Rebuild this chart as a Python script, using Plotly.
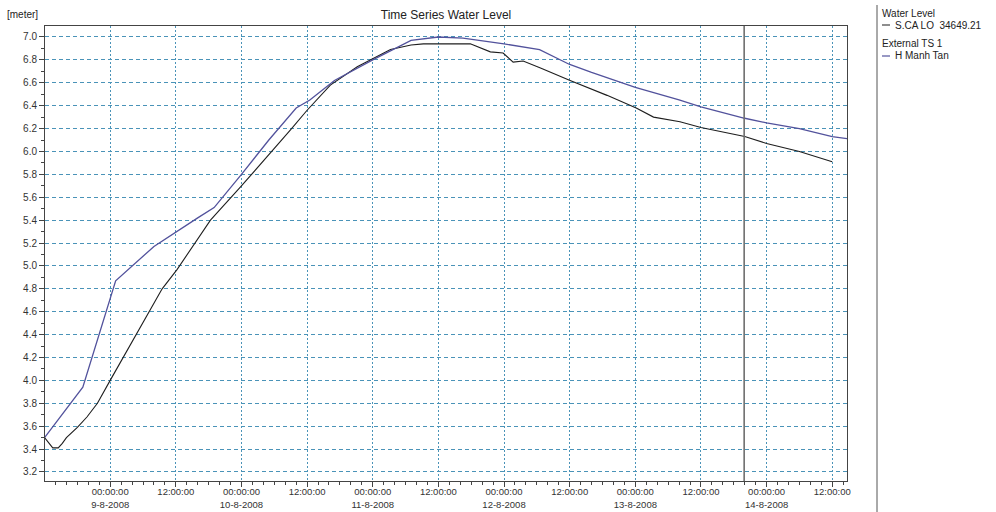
import plotly.graph_objects as go

# ---- data ----
manh_tan_time = [
    "2008-08-08 12:00", "2008-08-08 19:00", "2008-08-09 01:00", "2008-08-09 08:00",
    "2008-08-09 16:00", "2008-08-09 19:00", "2008-08-10 00:00", "2008-08-10 05:00",
    "2008-08-10 10:00", "2008-08-10 12:30", "2008-08-10 17:00", "2008-08-11 00:00",
    "2008-08-11 07:00", "2008-08-11 12:00", "2008-08-11 16:30", "2008-08-11 21:30",
    "2008-08-12 00:00", "2008-08-12 06:30", "2008-08-12 12:00", "2008-08-12 16:00",
    "2008-08-13 00:00", "2008-08-13 08:00", "2008-08-13 12:00", "2008-08-13 20:00",
    "2008-08-14 00:00", "2008-08-14 06:00", "2008-08-14 12:00", "2008-08-14 15:00",
]
manh_tan_level = [
    3.50, 3.94, 4.87, 5.17,
    5.42, 5.51, 5.80, 6.10,
    6.38, 6.45, 6.62, 6.80,
    6.97, 7.00, 6.99, 6.96,
    6.94, 6.89, 6.76, 6.69,
    6.56, 6.45, 6.39, 6.29,
    6.25, 6.20, 6.13, 6.11,
]

scalo_time = [
    "2008-08-08 12:00", "2008-08-08 13:30", "2008-08-08 14:30", "2008-08-08 15:15",
    "2008-08-08 16:00", "2008-08-08 18:00", "2008-08-08 19:45", "2008-08-08 21:40",
    "2008-08-09 00:00", "2008-08-09 09:30", "2008-08-09 12:15", "2008-08-09 18:20",
    "2008-08-09 23:50", "2008-08-10 04:40", "2008-08-10 09:00", "2008-08-10 12:00",
    "2008-08-10 16:15", "2008-08-10 21:10", "2008-08-11 03:15", "2008-08-11 07:00",
    "2008-08-11 09:15", "2008-08-11 17:50", "2008-08-11 21:30", "2008-08-11 23:50",
    "2008-08-12 01:40", "2008-08-12 03:30", "2008-08-12 06:40", "2008-08-12 12:05",
    "2008-08-12 18:50", "2008-08-13 00:10", "2008-08-13 03:20", "2008-08-13 08:10",
    "2008-08-13 12:00", "2008-08-13 20:00", "2008-08-14 00:00", "2008-08-14 06:00",
    "2008-08-14 12:00",
]
scalo_level = [
    3.50, 3.41, 3.41, 3.45,
    3.50, 3.59, 3.68, 3.80,
    4.00, 4.80, 4.97, 5.40,
    5.69, 5.95, 6.19, 6.36,
    6.58, 6.74, 6.89, 6.93,
    6.94, 6.94, 6.87, 6.86,
    6.78, 6.79, 6.73, 6.62,
    6.49, 6.38, 6.30, 6.26,
    6.21, 6.13, 6.07, 6.00,
    5.91,
]

x_tick_vals = [
    "2008-08-09 00:00", "2008-08-09 12:00", "2008-08-10 00:00", "2008-08-10 12:00",
    "2008-08-11 00:00", "2008-08-11 12:00", "2008-08-12 00:00", "2008-08-12 12:00",
    "2008-08-13 00:00", "2008-08-13 12:00", "2008-08-14 00:00", "2008-08-14 12:00",
]
x_tick_text = [
    "00:00:00<br>9-8-2008", "12:00:00", "00:00:00<br>10-8-2008", "12:00:00",
    "00:00:00<br>11-8-2008", "12:00:00", "00:00:00<br>12-8-2008", "12:00:00",
    "00:00:00<br>13-8-2008", "12:00:00", "00:00:00<br>14-8-2008", "12:00:00",
]
y_tick_vals = [3.2, 3.4, 3.6, 3.8, 4.0, 4.2, 4.4, 4.6, 4.8, 5.0, 5.2, 5.4, 5.6,
               5.8, 6.0, 6.2, 6.4, 6.6, 6.8, 7.0]
y_tick_text = ["%.1f" % v for v in y_tick_vals]

marker_time = "2008-08-13 19:54"
x_range = ["2008-08-08 12:05", "2008-08-14 14:42"]
y_range = [3.121, 7.096]

FONT = "Liberation Sans, Arial, sans-serif"
BLUE = "#52529c"
BLACK = "#1e1e1e"
GRID = "#4a93b8"

L, R, T, B = 45, 847, 26, 481
PW, PH = R - L, B - T

fig = go.Figure()
fig.add_trace(go.Scatter(x=scalo_time, y=scalo_level, mode="lines",
                         name="S.CA LO  34649.21",
                         line=dict(color=BLACK, width=1.1)))
fig.add_trace(go.Scatter(x=manh_tan_time, y=manh_tan_level, mode="lines",
                         name="H Manh Tan",
                         line=dict(color=BLUE, width=1.3)))

# vertical time marker
fig.add_shape(type="line", xref="x", yref="paper", x0=marker_time, x1=marker_time,
              y0=0, y1=1, line=dict(color="#6e6e6e", width=1.6))

# legend panel separator
sep_x = (877 - L) / PW
fig.add_shape(type="line", xref="paper", yref="paper", x0=sep_x, x1=sep_x,
              y0=(B - 512) / PH, y1=(B - 5) / PH, line=dict(color="#555555", width=1))

fig.update_layout(
    width=996, height=512,
    margin=dict(l=L, r=996 - R, t=T, b=512 - B, autoexpand=False),
    paper_bgcolor="white", plot_bgcolor="white",
    showlegend=False,
    font=dict(family=FONT, size=10, color="#333333"),
    title=dict(text="Time Series Water Level", x=0.5, xref="paper",
               y=1 - 15 / 512, yref="container", xanchor="center", yanchor="middle",
               font=dict(family=FONT, size=12, color="#222222")),
)

fig.update_xaxes(
    type="date", range=x_range, automargin=False,
    tickmode="array", tickvals=x_tick_vals, ticktext=x_tick_text,
    ticks="outside", ticklen=5, tickcolor="#444444", tickwidth=1,
    ticklabelstandoff=-3,
    showline=True, linecolor="#444444", linewidth=1, mirror=True,
    showgrid=True, gridcolor=GRID, griddash="2px,2px", gridwidth=1,
    zeroline=False,
    tickfont=dict(family=FONT, size=9.5, color="#333333"),
    minor=dict(tick0="2008-08-08 12:00", dtick=7200000, ticks="outside",
               ticklen=3, tickcolor="#444444", showgrid=False),
)
fig.update_yaxes(
    range=y_range, automargin=False,
    tickmode="array", tickvals=y_tick_vals, ticktext=y_tick_text,
    ticks="outside", ticklen=5, tickcolor="#444444", tickwidth=1,
    showline=True, linecolor="#444444", linewidth=1, mirror=True,
    showgrid=True, gridcolor=GRID, griddash="4px,3px", gridwidth=1,
    zeroline=False,
    tickfont=dict(family=FONT, size=10, color="#333333"),
    minor=dict(tick0=3.1, dtick=0.1, ticks="outside", ticklen=3,
               tickcolor="#444444", showgrid=False),
)

annots = [
    dict(text="[meter]", x=5, y=14),
    dict(text="Water Level", x=880, y=13),
    dict(text="S.CA LO  34649.21", x=893, y=25),
    dict(text="External TS 1", x=880, y=44),
    dict(text="H Manh Tan", x=893, y=56),
]
for a in annots:
    fig.add_annotation(text=a["text"], xref="paper", yref="paper",
                       x=(a["x"] - L) / PW, y=(B - a["y"]) / PH,
                       xanchor="left", yanchor="middle", showarrow=False,
                       font=dict(family=FONT, size=10, color="#222222"))

# legend line swatches
for ypx, col in [(25, "#444444"), (56, BLUE)]:
    yy = (B - ypx) / PH
    fig.add_shape(type="line", xref="paper", yref="paper",
                  x0=(882 - L) / PW, x1=(890 - L) / PW, y0=yy, y1=yy,
                  line=dict(color=col, width=1.2))

fig.write_html("out.html", config={"displayModeBar": False},
               post_script="document.body.style.margin='0';document.body.style.overflow='hidden';")
